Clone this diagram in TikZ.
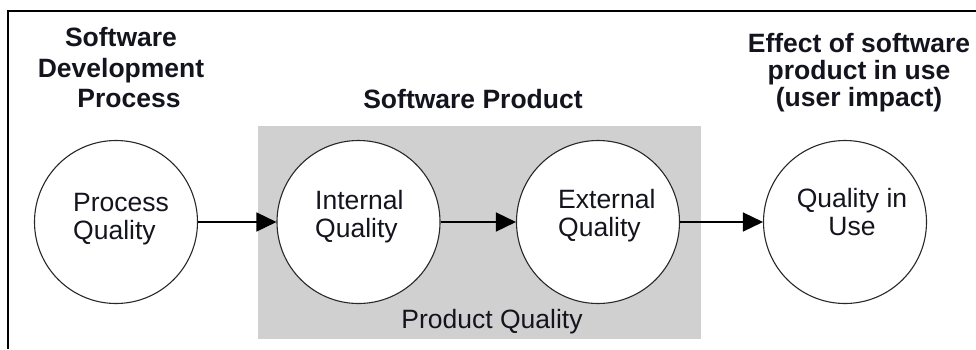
\documentclass[tikz,border=0pt]{standalone}
\usepackage{fontspec}
\setmainfont{Liberation Sans}
\usetikzlibrary{arrows.meta}
\definecolor{boxgray}{RGB}{208,208,208}
\definecolor{linegray}{RGB}{40,40,40}
\definecolor{inktext}{RGB}{20,20,30}
\begin{document}
\begin{tikzpicture}[x=1pt,y=-1pt,
  qcircle/.style={circle,draw=linegray,line width=1.1pt,fill=white,minimum size=163pt,inner sep=0pt},
  bodytext/.style={inner sep=0pt,text=inktext,font=\fontsize{26.5}{28}\selectfont},
  headtext/.style={inner sep=0pt,text=inktext,align=center},
  flow/.style={line width=1.5pt,-{Triangle[length=20pt,width=19pt]}}]
\useasboundingbox (0,0) rectangle (976,349);
\draw[line width=2pt] (976,11) -- (8,11) -- (8,349);
\fill[boxgray] (258,126) rectangle (701,339);
% headings
\node[headtext,anchor=north,font=\fontsize{26.5}{30.5}\selectfont\bfseries] (hdev) at (121,27.4) {Software\\Development\\\hspace*{16pt}Process};
\node[headtext,anchor=north,font=\fontsize{26.5}{27}\selectfont\bfseries] (heffect) at (859,33.5) {Effect of software\\product in use\\(user impact)};
\node[headtext,anchor=base,font=\fontsize{26.5}{30}\selectfont\bfseries] (hprod) at (473,108) {Software Product};
\node[bodytext,anchor=base] (prodq) at (492,328) {Product Quality};
% circles
\node[qcircle] (pq) at (116,222) {};
\node[qcircle] (iq) at (358.5,222) {};
\node[qcircle] (eq) at (598,222) {};
\node[qcircle] (qu) at (845,222) {};
% circle labels
\node[bodytext,align=left,anchor=north west] (pqt) at (73,193) {Process\\Quality};
\node[bodytext,align=left,anchor=north west] (iqt) at (315,190) {Internal\\Quality};
\node[bodytext,align=left,anchor=north west] (eqt) at (558,189) {External\\Quality};
\node[bodytext,align=center,anchor=north] (qut) at (852,188.5) {Quality in\\Use};
% connectors
\draw[flow] (pq) -- (iq);
\draw[flow] (iq) -- (eq);
\draw[flow] (eq) -- (qu);
\end{tikzpicture}
\end{document}
